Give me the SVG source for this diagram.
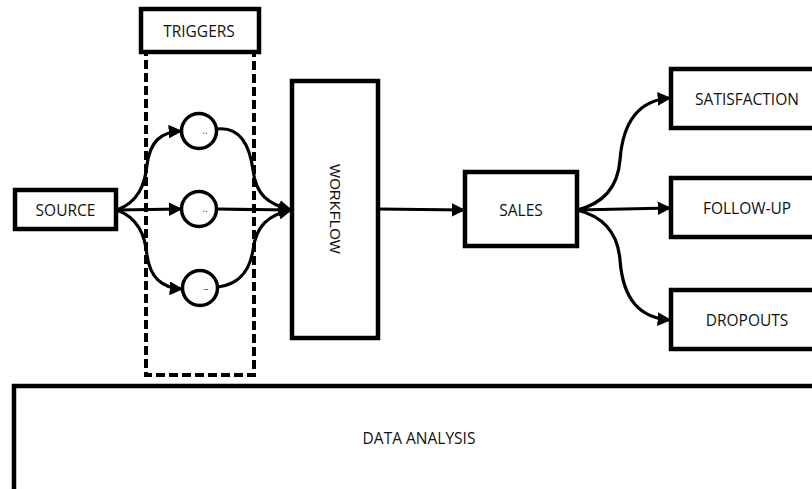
<svg xmlns="http://www.w3.org/2000/svg" width="812" height="489" viewBox="0 0 812 489">
  <style>
    .box { fill: #ffffff; stroke: #000000; stroke-width: 4.5; }
    .dash { fill: none; stroke: #000000; stroke-width: 4; stroke-dasharray: 9 4; }
    .node { fill: #ffffff; stroke: #000000; stroke-width: 3.5; }
    .link { fill: none; stroke: #000000; stroke-width: 3.2; }
    .arrow { marker-end: url(#head); }
    text { font-family: "Open Sans", "Liberation Sans", sans-serif; font-size: 15.5px; fill: #111111; text-anchor: middle; dominant-baseline: central; }
    .tiny { font-size: 10px; fill: #335577; }
    .vert { font-family: "Liberation Sans", Arial, sans-serif; font-size: 15px; }
  </style>
  <defs>
    <marker id="head" viewBox="0 0 10 10" refX="9" refY="5" markerWidth="4.3" markerHeight="4.3" orient="auto" markerUnits="strokeWidth">
      <path d="M0,0 L10,5 L0,10 Z" fill="#000000"/>
    </marker>
  </defs>

  <rect width="812" height="489" fill="#ffffff"/>

  <!-- trigger grouping frame -->
  <g id="triggers">
    <rect class="dash" x="146" y="52" width="108" height="323"/>
    <rect class="box" x="141" y="9" width="118" height="43"/>
    <text x="199" y="31">TRIGGERS</text>
  </g>

  <g id="source">
    <rect class="box" x="15" y="190" width="101" height="39"/>
    <text x="65.5" y="210">SOURCE</text>
  </g>

  <g id="trigger-1">
    <circle class="node" cx="199" cy="131" r="17.5"/>
    <text class="tiny" x="205" y="130">..</text>
  </g>
  <g id="trigger-2">
    <circle class="node" cx="199" cy="209" r="17.5"/>
    <text class="tiny" x="205" y="208">..</text>
  </g>
  <g id="trigger-3">
    <circle class="node" cx="200" cy="288" r="17.5"/>
    <text class="tiny" x="206" y="288">–</text>
  </g>

  <g id="workflow">
    <rect class="box" x="292" y="81" width="86" height="257"/>
    <text class="vert" x="335" y="209" transform="rotate(90 335 209)">WORKFLOW</text>
  </g>

  <g id="sales">
    <rect class="box" x="465" y="172" width="112" height="74"/>
    <text x="521" y="210">SALES</text>
  </g>

  <g id="satisfaction">
    <rect class="box" x="671" y="69" width="150" height="59"/>
    <text x="747" y="99">SATISFACTION</text>
  </g>
  <g id="follow-up">
    <rect class="box" x="671" y="178" width="150" height="59"/>
    <text x="747" y="208">FOLLOW-UP</text>
  </g>
  <g id="dropouts">
    <rect class="box" x="671" y="290" width="150" height="59"/>
    <text x="747" y="320">DROPOUTS</text>
  </g>

  <g id="data-analysis">
    <rect class="box" x="14" y="386" width="820" height="120"/>
    <text x="419" y="438">DATA ANALYSIS</text>
  </g>

  <g id="connectors">
    <!-- source to triggers -->
    <path class="link arrow" d="M117,210 C138,202 145,185 147,165 C150,142 160,132 181,131"/>
    <path class="link arrow" d="M117,210 L181,209"/>
    <path class="link arrow" d="M117,210 C138,218 145,235 147,255 C150,278 162,288 182,289"/>
    <!-- triggers to workflow -->
    <path class="link arrow" d="M217,129 C242,126 250,148 253,170 C256,195 268,204 291,210"/>
    <path class="link arrow" d="M217,209 L291,210"/>
    <path class="link arrow" d="M218,287 C242,284 250,268 253,250 C256,226 268,215 291,210"/>
    <!-- workflow to sales -->
    <path class="link arrow" d="M378,209 L464,210"/>
    <!-- sales to outcomes -->
    <path class="link arrow" d="M577,210 C606,203 618,185 620,160 C623,120 640,100 670,98"/>
    <path class="link arrow" d="M577,210 L670,208"/>
    <path class="link arrow" d="M577,210 C606,217 618,235 620,260 C623,300 640,318 670,320"/>
  </g>
</svg>
